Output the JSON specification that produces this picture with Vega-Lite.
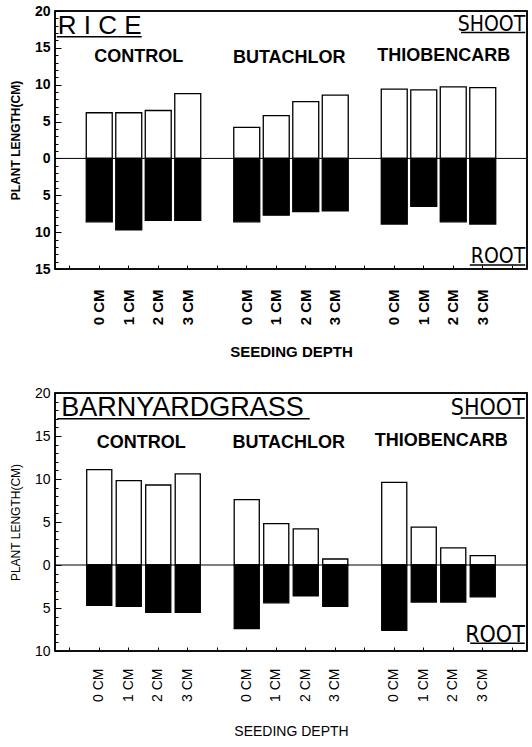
{
  "$schema": "https://vega.github.io/schema/vega-lite/v6.json",
  "background": "white",
  "padding": {"left": 8, "top": 3, "right": 5, "bottom": 0},
  "spacing": 24,
  "config": {
    "view": {"stroke": "black", "strokeWidth": 1.5},
    "font": "Liberation Sans",
    "axis": {"grid": false, "domain": false, "tickColor": "black", "labelColor": "black", "titleColor": "black", "labelFont": "Liberation Sans", "titleFont": "Liberation Sans", "labelOverlap": false}
  },
  "datasets": {
    "rice": [
      {"treatment": "CONTROL", "depth": "0 CM", "bar": "CONTROL 0 CM", "part": "shoot", "length": 6.2},
      {"treatment": "CONTROL", "depth": "1 CM", "bar": "CONTROL 1 CM", "part": "shoot", "length": 6.2},
      {"treatment": "CONTROL", "depth": "2 CM", "bar": "CONTROL 2 CM", "part": "shoot", "length": 6.5},
      {"treatment": "CONTROL", "depth": "3 CM", "bar": "CONTROL 3 CM", "part": "shoot", "length": 8.8},
      {"treatment": "BUTACHLOR", "depth": "0 CM", "bar": "BUTACHLOR 0 CM", "part": "shoot", "length": 4.2},
      {"treatment": "BUTACHLOR", "depth": "1 CM", "bar": "BUTACHLOR 1 CM", "part": "shoot", "length": 5.8},
      {"treatment": "BUTACHLOR", "depth": "2 CM", "bar": "BUTACHLOR 2 CM", "part": "shoot", "length": 7.7},
      {"treatment": "BUTACHLOR", "depth": "3 CM", "bar": "BUTACHLOR 3 CM", "part": "shoot", "length": 8.6},
      {"treatment": "THIOBENCARB", "depth": "0 CM", "bar": "THIOBENCARB 0 CM", "part": "shoot", "length": 9.4},
      {"treatment": "THIOBENCARB", "depth": "1 CM", "bar": "THIOBENCARB 1 CM", "part": "shoot", "length": 9.3},
      {"treatment": "THIOBENCARB", "depth": "2 CM", "bar": "THIOBENCARB 2 CM", "part": "shoot", "length": 9.7},
      {"treatment": "THIOBENCARB", "depth": "3 CM", "bar": "THIOBENCARB 3 CM", "part": "shoot", "length": 9.6},
      {"treatment": "CONTROL", "depth": "0 CM", "bar": "CONTROL 0 CM", "part": "root", "length": -8.6},
      {"treatment": "CONTROL", "depth": "1 CM", "bar": "CONTROL 1 CM", "part": "root", "length": -9.7},
      {"treatment": "CONTROL", "depth": "2 CM", "bar": "CONTROL 2 CM", "part": "root", "length": -8.4},
      {"treatment": "CONTROL", "depth": "3 CM", "bar": "CONTROL 3 CM", "part": "root", "length": -8.4},
      {"treatment": "BUTACHLOR", "depth": "0 CM", "bar": "BUTACHLOR 0 CM", "part": "root", "length": -8.6},
      {"treatment": "BUTACHLOR", "depth": "1 CM", "bar": "BUTACHLOR 1 CM", "part": "root", "length": -7.7},
      {"treatment": "BUTACHLOR", "depth": "2 CM", "bar": "BUTACHLOR 2 CM", "part": "root", "length": -7.2},
      {"treatment": "BUTACHLOR", "depth": "3 CM", "bar": "BUTACHLOR 3 CM", "part": "root", "length": -7.1},
      {"treatment": "THIOBENCARB", "depth": "0 CM", "bar": "THIOBENCARB 0 CM", "part": "root", "length": -8.9},
      {"treatment": "THIOBENCARB", "depth": "1 CM", "bar": "THIOBENCARB 1 CM", "part": "root", "length": -6.5},
      {"treatment": "THIOBENCARB", "depth": "2 CM", "bar": "THIOBENCARB 2 CM", "part": "root", "length": -8.6},
      {"treatment": "THIOBENCARB", "depth": "3 CM", "bar": "THIOBENCARB 3 CM", "part": "root", "length": -8.9}
    ],
    "barnyard": [
      {"treatment": "CONTROL", "depth": "0 CM", "bar": "CONTROL 0 CM", "part": "shoot", "length": 11.1},
      {"treatment": "CONTROL", "depth": "1 CM", "bar": "CONTROL 1 CM", "part": "shoot", "length": 9.8},
      {"treatment": "CONTROL", "depth": "2 CM", "bar": "CONTROL 2 CM", "part": "shoot", "length": 9.3},
      {"treatment": "CONTROL", "depth": "3 CM", "bar": "CONTROL 3 CM", "part": "shoot", "length": 10.6},
      {"treatment": "BUTACHLOR", "depth": "0 CM", "bar": "BUTACHLOR 0 CM", "part": "shoot", "length": 7.6},
      {"treatment": "BUTACHLOR", "depth": "1 CM", "bar": "BUTACHLOR 1 CM", "part": "shoot", "length": 4.8},
      {"treatment": "BUTACHLOR", "depth": "2 CM", "bar": "BUTACHLOR 2 CM", "part": "shoot", "length": 4.2},
      {"treatment": "BUTACHLOR", "depth": "3 CM", "bar": "BUTACHLOR 3 CM", "part": "shoot", "length": 0.7},
      {"treatment": "THIOBENCARB", "depth": "0 CM", "bar": "THIOBENCARB 0 CM", "part": "shoot", "length": 9.6},
      {"treatment": "THIOBENCARB", "depth": "1 CM", "bar": "THIOBENCARB 1 CM", "part": "shoot", "length": 4.4},
      {"treatment": "THIOBENCARB", "depth": "2 CM", "bar": "THIOBENCARB 2 CM", "part": "shoot", "length": 2.0},
      {"treatment": "THIOBENCARB", "depth": "3 CM", "bar": "THIOBENCARB 3 CM", "part": "shoot", "length": 1.1},
      {"treatment": "CONTROL", "depth": "0 CM", "bar": "CONTROL 0 CM", "part": "root", "length": -4.7},
      {"treatment": "CONTROL", "depth": "1 CM", "bar": "CONTROL 1 CM", "part": "root", "length": -4.8},
      {"treatment": "CONTROL", "depth": "2 CM", "bar": "CONTROL 2 CM", "part": "root", "length": -5.5},
      {"treatment": "CONTROL", "depth": "3 CM", "bar": "CONTROL 3 CM", "part": "root", "length": -5.5},
      {"treatment": "BUTACHLOR", "depth": "0 CM", "bar": "BUTACHLOR 0 CM", "part": "root", "length": -7.4},
      {"treatment": "BUTACHLOR", "depth": "1 CM", "bar": "BUTACHLOR 1 CM", "part": "root", "length": -4.4},
      {"treatment": "BUTACHLOR", "depth": "2 CM", "bar": "BUTACHLOR 2 CM", "part": "root", "length": -3.6},
      {"treatment": "BUTACHLOR", "depth": "3 CM", "bar": "BUTACHLOR 3 CM", "part": "root", "length": -4.8},
      {"treatment": "THIOBENCARB", "depth": "0 CM", "bar": "THIOBENCARB 0 CM", "part": "root", "length": -7.6},
      {"treatment": "THIOBENCARB", "depth": "1 CM", "bar": "THIOBENCARB 1 CM", "part": "root", "length": -4.3},
      {"treatment": "THIOBENCARB", "depth": "2 CM", "bar": "THIOBENCARB 2 CM", "part": "root", "length": -4.3},
      {"treatment": "THIOBENCARB", "depth": "3 CM", "bar": "THIOBENCARB 3 CM", "part": "root", "length": -3.7}
    ]
  },
  "vconcat": [
    {
      "width": 472,
      "height": 258,
      "view": {"stroke": "black", "strokeWidth": 1.5},
      "resolve": {"axis": {"y": "independent"}},
      "layer": [
        {
          "data": {"name": "rice"},
          "mark": {"type": "bar", "stroke": "black", "strokeWidth": 1.3},
          "encoding": {
            "x": {
              "field": "bar", "type": "nominal",
              "scale": {"domain": ["gap0", "CONTROL 0 CM", "CONTROL 1 CM", "CONTROL 2 CM", "CONTROL 3 CM", "gap1", "BUTACHLOR 0 CM", "BUTACHLOR 1 CM", "BUTACHLOR 2 CM", "BUTACHLOR 3 CM", "gap2", "THIOBENCARB 0 CM", "THIOBENCARB 1 CM", "THIOBENCARB 2 CM", "THIOBENCARB 3 CM", "gap3"], "paddingInner": 0.12, "paddingOuter": 0.06},
              "axis": {"title": "SEEDING DEPTH", "labelAngle": 270, "labelOverlap": false, "labelExpr": "indexof(datum.value,'gap')==0 ? '' : slice(datum.value,-4)", "labelFontSize": 15, "labelFontWeight": "bold", "labelPadding": 24, "tickSize": -4, "titleFontSize": 15, "titleFontWeight": "bold", "titlePadding": 20}
            },
            "y": {
              "field": "length", "type": "quantitative",
              "scale": {"domain": [-15, 20], "nice": false, "zero": false},
              "axis": {"orient": "left", "title": "PLANT LENGTH(CM)", "labelOverlap": false, "values": [-15, -10, -5, 0, 5, 10, 15, 20], "labelExpr": "replace(datum.label, '−', '')", "tickSize": -6, "labelPadding": 11, "labelFontSize": 14, "labelFontWeight": "bold", "titleFontSize": 12, "titleFontWeight": "bold", "titlePadding": 12}
            },
            "fill": {"field": "part", "type": "nominal", "scale": {"domain": ["shoot", "root"], "range": ["white", "black"]}, "legend": null}
          }
        },
        {"data": {"values": [{}]}, "mark": {"type": "rule", "color": "black", "strokeWidth": 1}, "encoding": {"y": {"datum": 0, "axis": {"orient": "left", "values": [-14,-13,-12,-11,-9,-8,-7,-6,-4,-3,-2,-1,1,2,3,4,6,7,8,9,11,12,13,14,16,17,18,19], "labels": false, "title": null, "tickSize": -3, "domain": false}}}},
        {"data": {"values": [{}]}, "mark": {"type": "rect", "fill": null, "fillOpacity": 0, "stroke": "black", "strokeWidth": 1.5}, "encoding": {"y": {"datum": -15, "axis": null}, "y2": {"datum": 20}}},
        {"data": {"values": [{}]}, "mark": {"type": "text", "text": "R I C E", "align": "left", "baseline": "alphabetic", "fontSize": 26, "dx": 1, "color": "black"}, "encoding": {"x": {"datum": "gap0", "bandPosition": 0}, "y": {"datum": 16.84, "axis": null}}},
        {"data": {"values": [{}]}, "mark": {"type": "rule", "color": "black", "strokeWidth": 1.5}, "encoding": {"x": {"datum": "gap0", "bandPosition": 0}, "x2": {"datum": "CONTROL 1 CM", "bandPosition": 1}, "y": {"datum": 16.5, "axis": null}}},
        {"data": {"values": [{}]}, "mark": {"type": "text", "text": "SHOOT", "align": "right", "baseline": "alphabetic", "fontSize": 21, "font": "Liberation Sans Narrow, DejaVu Sans Condensed, sans-serif", "color": "black"}, "encoding": {"x": {"datum": "gap3", "bandPosition": 1}, "y": {"datum": 17.35, "axis": null}}},
        {"data": {"values": [{}]}, "mark": {"type": "rule", "color": "black", "strokeWidth": 1.5}, "encoding": {"x": {"datum": "THIOBENCARB 2 CM", "bandPosition": 0.8}, "x2": {"datum": "gap3", "bandPosition": 1}, "y": {"datum": 17.1, "axis": null}}},
        {"data": {"values": [{}]}, "mark": {"type": "text", "text": "ROOT", "align": "right", "baseline": "alphabetic", "fontSize": 21, "font": "Liberation Sans Narrow, DejaVu Sans Condensed, sans-serif", "color": "black"}, "encoding": {"x": {"datum": "gap3", "bandPosition": 1}, "y": {"datum": -14.2, "axis": null}}},
        {"data": {"values": [{}]}, "mark": {"type": "rule", "color": "black", "strokeWidth": 1.5}, "encoding": {"x": {"datum": "THIOBENCARB 3 CM", "bandPosition": 0}, "x2": {"datum": "gap3", "bandPosition": 1}, "y": {"datum": -14.45, "axis": null}}},
        {"data": {"values": [{}]}, "mark": {"type": "text", "text": "CONTROL", "align": "center", "baseline": "middle", "fontSize": 18, "fontWeight": "bold", "dx": -3, "color": "black"}, "encoding": {"x": {"datum": "CONTROL 1 CM", "bandPosition": 1}, "y": {"datum": 13.8, "axis": null}}},
        {"data": {"values": [{}]}, "mark": {"type": "text", "text": "BUTACHLOR", "align": "center", "baseline": "middle", "fontSize": 18, "fontWeight": "bold", "color": "black"}, "encoding": {"x": {"datum": "BUTACHLOR 1 CM", "bandPosition": 1}, "y": {"datum": 13.6, "axis": null}}},
        {"data": {"values": [{}]}, "mark": {"type": "text", "text": "THIOBENCARB", "align": "center", "baseline": "middle", "fontSize": 18, "fontWeight": "bold", "dx": 7, "color": "black"}, "encoding": {"x": {"datum": "THIOBENCARB 1 CM", "bandPosition": 1}, "y": {"datum": 13.9, "axis": null}}}
      ]
    },
    {
      "width": 472,
      "height": 258,
      "view": {"stroke": "black", "strokeWidth": 1.5},
      "resolve": {"axis": {"y": "independent"}},
      "layer": [
        {
          "data": {"name": "barnyard"},
          "mark": {"type": "bar", "stroke": "black", "strokeWidth": 1.3},
          "encoding": {
            "x": {
              "field": "bar", "type": "nominal",
              "scale": {"domain": ["gap0", "CONTROL 0 CM", "CONTROL 1 CM", "CONTROL 2 CM", "CONTROL 3 CM", "gap1", "BUTACHLOR 0 CM", "BUTACHLOR 1 CM", "BUTACHLOR 2 CM", "BUTACHLOR 3 CM", "gap2", "THIOBENCARB 0 CM", "THIOBENCARB 1 CM", "THIOBENCARB 2 CM", "THIOBENCARB 3 CM", "gap3"], "paddingInner": 0.15, "paddingOuter": 0.075},
              "axis": {"title": "SEEDING DEPTH", "labelAngle": 270, "labelOverlap": false, "labelExpr": "indexof(datum.value,'gap')==0 ? '' : slice(datum.value,-4)", "labelFontSize": 14, "labelFontWeight": "normal", "labelPadding": 21, "tickSize": -4, "titleFontSize": 14, "titleFontWeight": "normal", "titlePadding": 23}
            },
            "y": {
              "field": "length", "type": "quantitative",
              "scale": {"domain": [-10, 20], "nice": false, "zero": false},
              "axis": {"orient": "left", "title": "PLANT LENGTH(CM)", "labelOverlap": false, "values": [-10, -5, 0, 5, 10, 15, 20], "labelExpr": "replace(datum.label, '−', '')", "tickSize": -6, "labelPadding": 11, "labelFontSize": 14, "labelFontWeight": "normal", "titleFontSize": 12, "titleFontWeight": "normal", "titlePadding": 12}
            },
            "fill": {"field": "part", "type": "nominal", "scale": {"domain": ["shoot", "root"], "range": ["white", "black"]}, "legend": null}
          }
        },
        {"data": {"values": [{}]}, "mark": {"type": "rule", "color": "black", "strokeWidth": 1}, "encoding": {"y": {"datum": 0, "axis": {"orient": "left", "values": [-9,-8,-7,-6,-4,-3,-2,-1,1,2,3,4,6,7,8,9,11,12,13,14,16,17,18,19], "labels": false, "title": null, "tickSize": -3, "domain": false}}}},
        {"data": {"values": [{}]}, "mark": {"type": "rect", "fill": null, "fillOpacity": 0, "stroke": "black", "strokeWidth": 1.5}, "encoding": {"y": {"datum": -10, "axis": null}, "y2": {"datum": 20}}},
        {"data": {"values": [{}]}, "mark": {"type": "text", "text": "BARNYARDGRASS", "align": "left", "baseline": "alphabetic", "fontSize": 27, "dx": 4, "color": "black"}, "encoding": {"x": {"datum": "gap0", "bandPosition": 0}, "y": {"datum": 17.35, "axis": null}}},
        {"data": {"values": [{}]}, "mark": {"type": "rule", "color": "black", "strokeWidth": 1.5}, "encoding": {"x": {"datum": "gap0", "bandPosition": 0}, "x2": {"datum": "BUTACHLOR 2 CM", "bandPosition": 0.66}, "y": {"datum": 17.0, "axis": null}}},
        {"data": {"values": [{}]}, "mark": {"type": "text", "text": "SHOOT", "align": "right", "baseline": "alphabetic", "fontSize": 23, "font": "Liberation Sans Narrow, DejaVu Sans Condensed, sans-serif", "color": "black"}, "encoding": {"x": {"datum": "gap3", "bandPosition": 1}, "y": {"datum": 17.4, "axis": null}}},
        {"data": {"values": [{}]}, "mark": {"type": "rule", "color": "black", "strokeWidth": 1.5}, "encoding": {"x": {"datum": "THIOBENCARB 2 CM", "bandPosition": 0.8}, "x2": {"datum": "gap3", "bandPosition": 1}, "y": {"datum": 17.1, "axis": null}}},
        {"data": {"values": [{}]}, "mark": {"type": "text", "text": "ROOT", "align": "right", "baseline": "alphabetic", "fontSize": 23, "font": "Liberation Sans Narrow, DejaVu Sans Condensed, sans-serif", "color": "black"}, "encoding": {"x": {"datum": "gap3", "bandPosition": 1}, "y": {"datum": -8.9, "axis": null}}},
        {"data": {"values": [{}]}, "mark": {"type": "rule", "color": "black", "strokeWidth": 1.5}, "encoding": {"x": {"datum": "THIOBENCARB 3 CM", "bandPosition": 0}, "x2": {"datum": "gap3", "bandPosition": 1}, "y": {"datum": -9.1, "axis": null}}},
        {"data": {"values": [{}]}, "mark": {"type": "text", "text": "CONTROL", "align": "center", "baseline": "middle", "fontSize": 18, "fontWeight": "bold", "color": "black"}, "encoding": {"x": {"datum": "CONTROL 1 CM", "bandPosition": 1}, "y": {"datum": 14.2, "axis": null}}},
        {"data": {"values": [{}]}, "mark": {"type": "text", "text": "BUTACHLOR", "align": "center", "baseline": "middle", "fontSize": 18, "fontWeight": "bold", "color": "black"}, "encoding": {"x": {"datum": "BUTACHLOR 1 CM", "bandPosition": 1}, "y": {"datum": 14.2, "axis": null}}},
        {"data": {"values": [{}]}, "mark": {"type": "text", "text": "THIOBENCARB", "align": "center", "baseline": "middle", "fontSize": 18, "fontWeight": "bold", "dx": 5, "color": "black"}, "encoding": {"x": {"datum": "THIOBENCARB 1 CM", "bandPosition": 1}, "y": {"datum": 14.4, "axis": null}}}
      ]
    }
  ]
}
